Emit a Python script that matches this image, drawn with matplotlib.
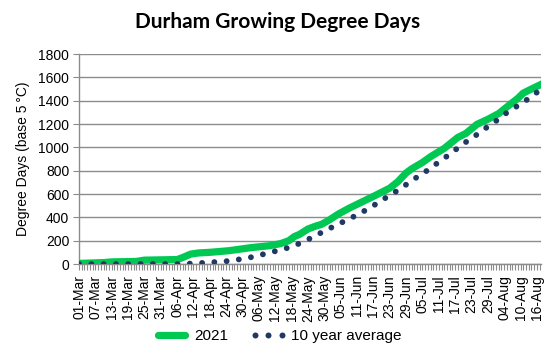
import matplotlib
matplotlib.use("Agg")
import matplotlib.pyplot as plt
from matplotlib.ticker import MultipleLocator, FixedLocator
from matplotlib.lines import Line2D
import pandas as pd

# ---- data ----
start_date = "2021-03-01"
tick_labels = ["01-Mar", "07-Mar", "13-Mar", "19-Mar", "25-Mar", "31-Mar", "06-Apr",
               "12-Apr", "18-Apr", "24-Apr", "30-Apr", "06-May", "12-May", "18-May",
               "24-May", "30-May", "05-Jun", "11-Jun", "17-Jun", "23-Jun", "29-Jun",
               "05-Jul", "11-Jul", "17-Jul", "23-Jul", "29-Jul", "04-Aug", "10-Aug",
               "16-Aug"]
end_date = "2021-08-18"

# 2021 series (dates, cumulative GDD)
g2021_dates = ["2021-03-01", "2021-03-10", "2021-03-13", "2021-03-22", "2021-03-25",
               "2021-04-06", "2021-04-08", "2021-04-11", "2021-04-14", "2021-04-18",
               "2021-04-25", "2021-04-30", "2021-05-03", "2021-05-10", "2021-05-14",
               "2021-05-17", "2021-05-19", "2021-05-21", "2021-05-24", "2021-05-27",
               "2021-05-29", "2021-06-01", "2021-06-04", "2021-06-08", "2021-06-13",
               "2021-06-18", "2021-06-23", "2021-06-26", "2021-06-29", "2021-07-01",
               "2021-07-05", "2021-07-08", "2021-07-13", "2021-07-18", "2021-07-21",
               "2021-07-25", "2021-07-29", "2021-08-02", "2021-08-06", "2021-08-09",
               "2021-08-11", "2021-08-14", "2021-08-18"]
g2021_vals = [5, 12, 18, 22, 33, 38, 55, 85, 95, 100, 114, 130, 140, 157, 175,
              200, 235, 255, 300, 326, 340, 380, 426, 477, 534, 591, 650, 706,
              780, 815, 870, 920, 991, 1085, 1120, 1197, 1240, 1290, 1365, 1420,
              1465, 1500, 1545]

# 10 year average series
avg_dates = ["2021-03-01", "2021-04-06", "2021-04-10", "2021-04-14", "2021-04-18",
             "2021-04-23", "2021-04-27", "2021-05-02", "2021-05-06", "2021-05-10",
             "2021-05-15", "2021-05-19", "2021-05-23", "2021-05-27", "2021-05-31",
             "2021-06-04", "2021-06-08", "2021-06-12", "2021-06-16", "2021-06-19",
             "2021-06-23", "2021-06-27", "2021-06-30", "2021-07-04", "2021-07-08",
             "2021-07-11", "2021-07-15", "2021-07-18", "2021-07-22", "2021-07-26",
             "2021-07-29", "2021-08-02", "2021-08-05", "2021-08-09", "2021-08-13",
             "2021-08-16", "2021-08-18"]
avg_vals = [0, 0, 3, 7, 14, 21, 33, 52, 74, 98, 127, 157, 198, 246, 294, 340,
            385, 433, 485, 530, 589, 645, 698, 760, 820, 875, 940, 995, 1063,
            1125, 1178, 1242, 1298, 1357, 1418, 1471, 1500]

y_ticks = [0, 200, 400, 600, 800, 1000, 1200, 1400, 1600, 1800]

# ---- helpers ----
t0 = pd.Timestamp(start_date)
def day_index(ds):
    return [(pd.Timestamp(d) - t0).days for d in ds]

x_green = day_index(g2021_dates)
x_avg = day_index(avg_dates)
n_days = (pd.Timestamp(end_date) - t0).days
tick_pos = [(pd.Timestamp(f"2021-{pd.to_datetime(l, format='%d-%b').month:02d}-{l[:2]}") - t0).days
            for l in tick_labels]

plt.rcParams['font.family'] = ['Liberation Sans', 'DejaVu Sans']

fig = plt.figure(figsize=(5.55, 3.58), dpi=100)
ax = fig.add_axes([79/555, 1-264/358, (541-79)/555, (264-54)/358])

green = "#00C853"
navy = "#203864"
grid_c = "#8C8C8C"

ax.plot(x_green, g2021_vals, color=green, lw=5.2, solid_capstyle='round',
        solid_joinstyle='round', zorder=3)
ax.plot(x_avg, avg_vals, color=navy, lw=4.2, linestyle=(0, (0.01, 2.1)),
        dash_capstyle='round', zorder=4)

ax.set_xlim(0, n_days - 0.5)
ax.set_ylim(0, 1800)
ax.yaxis.set_major_locator(FixedLocator(y_ticks))
ax.set_yticklabels([str(v) for v in y_ticks], fontsize=10)
ax.grid(axis='y', color=grid_c, lw=1)
ax.set_axisbelow(True)

ax.xaxis.set_major_locator(FixedLocator(tick_pos))
ax.set_xticklabels(tick_labels, rotation=90, fontsize=10)
ax.xaxis.set_minor_locator(MultipleLocator(1))
ax.tick_params(axis='x', which='both', length=4, color=grid_c, width=0.8, pad=4)
ax.tick_params(axis='y', length=4, color=grid_c, width=0.8, pad=3)

for s in ['top', 'right']:
    ax.spines[s].set_visible(False)
for s in ['left', 'bottom']:
    ax.spines[s].set_color(grid_c)
    ax.spines[s].set_linewidth(1)

ax.set_ylabel("Degree Days (base 5\u2009\u00b0C)", fontsize=10, labelpad=6)

fig.text(0.5, 1-22/358, "Durham Growing Degree Days", ha='center', va='center',
         fontsize=15, fontweight='bold', family=['Lato', 'DejaVu Sans'])

h_green = Line2D([], [], color=green, lw=5.2, solid_capstyle='round')
h_avg = Line2D([], [], color=navy, ls='None', marker='o', markersize=4.3,
               markeredgewidth=0)
fig.legend([h_green, h_avg], ["2021", "10 year average"], loc='center',
           bbox_to_anchor=(0.5, 1-336/358), ncol=2, frameon=False, numpoints=3,
           fontsize=11, handlelength=2.4, columnspacing=1.4, handletextpad=0.3)

fig.savefig("out.png", dpi=100)
